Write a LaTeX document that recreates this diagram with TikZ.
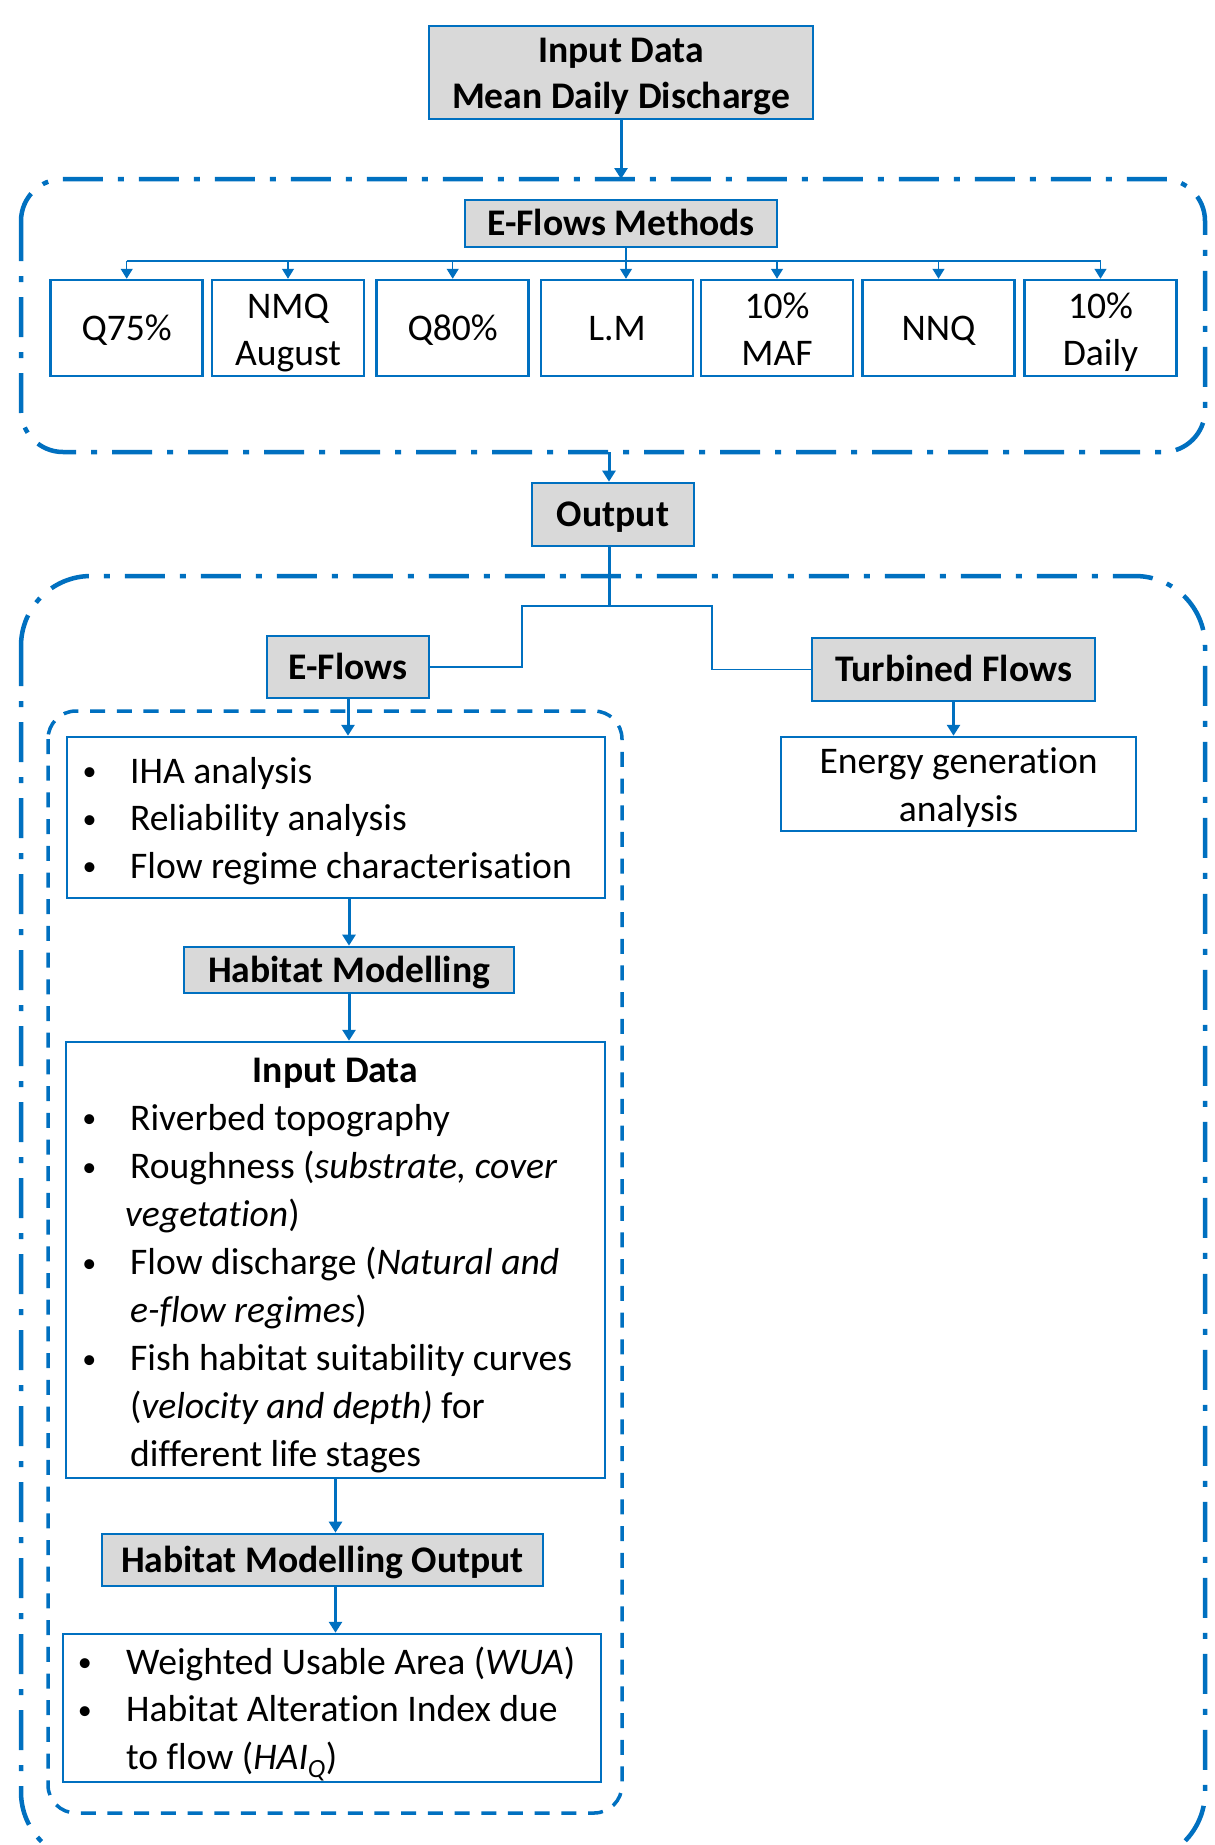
\documentclass[tikz,border=0pt]{standalone}
\usepackage{fontspec}
\setmainfont{Carlito}[Ligatures=NoCommon]
\usetikzlibrary{arrows.meta}
\definecolor{eblue}{RGB}{0,112,192}
\definecolor{boxgray}{RGB}{217,217,217}
\newcommand\fsz{\fontsize{37.6}{47}\selectfont}
\newcommand\bull{\raisebox{2.5pt}{\fontsize{28}{28}\selectfont •}}
\begin{document}
\begin{tikzpicture}[x=1pt,y=-1pt,
  every node/.style={font=\fsz, inner sep=0pt},
  gbox/.style={draw=eblue, fill=boxgray, line width=2.7pt, font=\fsz\bfseries, text height=24.5pt, text depth=0pt},
  wbox/.style={draw=eblue, fill=white, line width=2.5pt, text height=24.5pt, text depth=0pt},
  tarrow/.style={draw=eblue, line width=3pt, -{Triangle[length=11pt,width=13pt]}},
  narrow/.style={draw=eblue, line width=1.3pt, -{Triangle[length=10pt,width=12pt]}},
  nline/.style={draw=eblue, line width=1.3pt},
  tline/.style={draw=eblue, line width=3pt},
  ddbox/.style={draw=eblue, line width=4.5pt, dash pattern=on 40pt off 15pt on 6pt off 15pt},
  dbox/.style={draw=eblue, line width=3.5pt, dash pattern=on 15pt off 11.7pt},
  txt/.style={anchor=base west},
  bul/.style={anchor=base}]
\useasboundingbox (0,0) rectangle (1215,1845);
\fill[white] (0,0) rectangle (1215,1845);
\clip (0,0) rectangle (1215,1845);

% grouping frames
\draw[ddbox, rounded corners=42pt] (21,179) rectangle (1205,452);
\draw[ddbox, rounded corners=70pt] (21,576) rectangle (1205,1862);
\draw[dbox, rounded corners=28pt] (48,711) rectangle (622,1813);

% top part
\node[gbox, minimum width=384pt, minimum height=93pt] (in1) at (621,72.5) {};
\node[bul, font=\fsz\bfseries] (in1a) at (621,62) {Input Data};
\node[bul, font=\fsz\bfseries] (in1b) at (621,108.5) {Mean Daily Discharge};
\node[gbox, minimum width=312pt, minimum height=47pt] (meth) at (621,223.5) {E-Flows Methods};
\node[wbox, minimum width=152pt, minimum height=96pt] (q75) at (126.7,328) {Q75\%};
\node[wbox, minimum width=152pt, minimum height=96pt] (nmq) at (288,328) {};
\node[bul] (nmqa) at (288,318) {NMQ};
\node[bul] (nmqb) at (288,365) {August};
\node[wbox, minimum width=152pt, minimum height=96pt] (q80) at (452.7,328) {Q80\%};
\node[wbox, minimum width=152pt, minimum height=96pt] (lm) at (617,328) {L.M};
\node[wbox, minimum width=152pt, minimum height=96pt] (maf) at (777,328) {};
\node[bul] (mafa) at (777,318) {10\%};
\node[bul] (mafb) at (777,365) {MAF};
\node[wbox, minimum width=152pt, minimum height=96pt] (nnq) at (938.5,328) {NNQ};
\node[wbox, minimum width=152pt, minimum height=96pt] (daily) at (1100.5,328) {};
\node[bul] (dailya) at (1100.5,318) {10\%};
\node[bul] (dailyb) at (1100.5,365) {Daily};

% output part
\node[gbox, minimum width=162pt, minimum height=63pt] (out) at (613,514.5) {Output};
\node[gbox, minimum width=162pt, minimum height=62pt] (ef) at (348,667) {E-Flows};
\node[gbox, minimum width=283pt, minimum height=63pt] (tf) at (953.5,669.5) {Turbined Flows};
\node[wbox, minimum width=355pt, minimum height=94pt] (en) at (958.5,784) {};
\node[bul] (ena) at (958.5,773.5) {Energy generation};
\node[bul] (enb) at (958.5,821) {analysis};

\node[wbox, minimum width=538pt, minimum height=161pt] (iha) at (336,817.5) {};
\node[bul] (ib1) at (89.5,783) {\bull};
\node[txt] (it1) at (130,783) {IHA analysis};
\node[bul] (ib2) at (89.5,830.5) {\bull};
\node[txt] (it2) at (130,830.5) {Reliability analysis};
\node[bul] (ib3) at (89.5,878) {\bull};
\node[txt] (it3) at (130,878) {Flow regime characterisation};

\node[gbox, minimum width=330pt, minimum height=46pt] (hm) at (349,970) {Habitat Modelling};

\node[wbox, minimum width=539pt, minimum height=436pt] (in2) at (335.5,1260) {};
\node[bul, font=\fsz\bfseries] (dt0) at (335.5,1082) {Input Data};
\node[bul] (db1) at (89.3,1130) {\bull};
\node[txt] (dt1) at (130,1130) {Riverbed topography};
\node[bul] (db2) at (89.3,1178.5) {\bull};
\node[txt] (dt2) at (130,1178.5) {Roughness (\textit{substrate, cover}};
\node[txt] (dt3) at (125,1226) {\textit{vegetation})};
\node[bul] (db4) at (89.3,1274.5) {\bull};
\node[txt] (dt4) at (130,1274.5) {Flow discharge (\textit{Natural and}};
\node[txt] (dt5) at (130,1322.5) {\textit{e-flow regimes})};
\node[bul] (db6) at (89.3,1370.5) {\bull};
\node[txt] (dt6) at (130,1370.5) {Fish habitat suitability curves};
\node[txt] (dt7) at (130,1418.5) {(\textit{velocity and depth)} for};
\node[txt] (dt8) at (130,1466) {different life stages};

\node[gbox, minimum width=441pt, minimum height=52pt] (hmo) at (322.5,1560) {Habitat Modelling Output};

\node[wbox, minimum width=538pt, minimum height=148pt] (res) at (332,1708) {};
\node[bul] (rb1) at (84.8,1674) {\bull};
\node[txt] (rt1) at (126,1674) {Weighted Usable Area (\textit{WUA})};
\node[bul] (rb2) at (84.8,1721.5) {\bull};
\node[txt] (rt2) at (126,1721.5) {Habitat Alteration Index due};
\node[txt] (rt3) at (126,1769) {to flow (\textit{HAI\textsubscript{Q}})};

% connectors
\coordinate (b1top) at (621.7,179);
\coordinate (b1bot) at (609,452);
\coordinate (bus) at (0,261);
\coordinate (jn) at (609,606);
\coordinate (jl) at (522,606);
\coordinate (jr) at (712,606);

\draw[tarrow] (in1.south) -- (in1.south |- b1top);
\draw[nline] (q75.north |- bus) -- (daily.north |- bus);
\draw[narrow] ([xshift=5pt]meth.south) -- ([xshift=5pt]meth.south |- lm.north);
\foreach \n in {q75,nmq,q80,maf,nnq,daily}
  \draw[narrow] (\n.north |- bus) -- (\n.north);
\draw[tarrow] (b1bot) -- (b1bot |- out.north);
\draw[tline] (out.south -| jn) -- (jn);
\draw[nline] (ef.east) -| (jl) -- (jr) |- (tf.west);
\draw[tarrow] (ef.south) -- (ef.south |- iha.north);
\draw[tarrow] (tf.south) -- (tf.south |- en.north);
\draw[tarrow] (iha.south -| hm.north) -- (hm.north);
\draw[tarrow] (hm.south) -- (hm.south |- in2.north);
\draw[tarrow] (in2.south) -- (in2.south |- hmo.north);
\draw[tarrow] (hmo.south -| in2.south) -- (in2.south |- res.north);
\end{tikzpicture}
\end{document}
